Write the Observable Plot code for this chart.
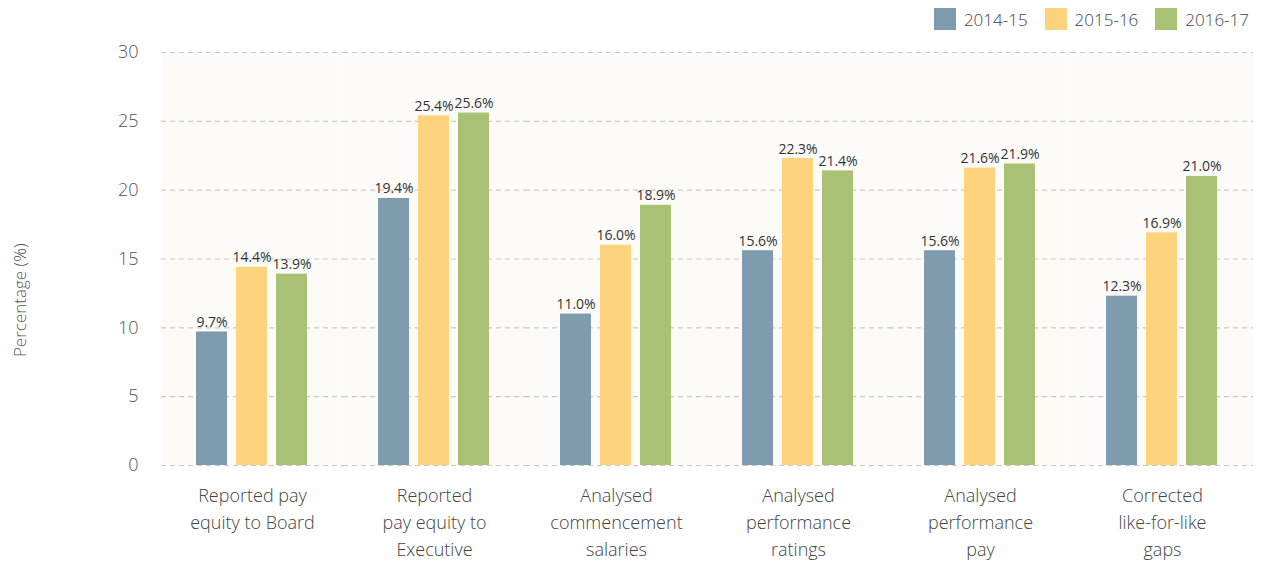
<!DOCTYPE html>
<html>
<head>
<meta charset="utf-8">
<script src="https://cdn.jsdelivr.net/npm/d3@7"></script>
<script src="https://cdn.jsdelivr.net/npm/@observablehq/plot@0.6"></script>
<style>
  body { margin: 0; background: #ffffff; font-family: "Open Sans", sans-serif; }
  #legend { height: 38px; display: flex; justify-content: flex-end; align-items: center; padding-right: 24px; box-sizing: border-box; font-size: 17px; color: #444; font-weight: 300; }
  #legend .item { display: flex; align-items: center; margin-left: 17px; }
  #legend .sw { width: 22px; height: 22px; margin-right: 8px; }
</style>
</head>
<body>
<div id="legend"></div>
<div id="chart"></div>
<script>
const categories = [
  "Reported pay equity to Board",
  "Reported pay equity to Executive",
  "Analysed commencement salaries",
  "Analysed performance ratings",
  "Analysed performance pay",
  "Corrected like-for-like gaps"
];
const categoryLabels = [
  "Reported pay\nequity to Board",
  "Reported\npay equity to\nExecutive",
  "Analysed\ncommencement\nsalaries",
  "Analysed\nperformance\nratings",
  "Analysed\nperformance\npay",
  "Corrected\nlike-for-like\ngaps"
];
const series = ["2014-15", "2015-16", "2016-17"];
const values2014_15 = [9.7, 19.4, 11.0, 15.6, 15.6, 12.3];
const values2015_16 = [14.4, 25.4, 16.0, 22.3, 21.6, 16.9];
const values2016_17 = [13.9, 25.6, 18.9, 21.4, 21.9, 21.0];
const colors = ["#7f9cae", "#fdd37e", "#a9c174"];
const yTicks = [0, 5, 10, 15, 20, 25, 30];
const yLabel = "Percentage (%)";

const seriesValues = [values2014_15, values2015_16, values2016_17];
const data = [];
categories.forEach((c, i) => {
  series.forEach((s, j) => data.push({category: c, series: s, value: seriesValues[j][i]}));
});
const labelRows = categories.map((c, i) => ({category: c, label: categoryLabels[i]}));

// legend
const legend = document.getElementById("legend");
series.forEach((s, j) => {
  const item = document.createElement("div");
  item.className = "item";
  item.innerHTML = `<span class="sw" style="background:${colors[j]}"></span><span>${s}</span>`;
  legend.appendChild(item);
});

const chart = Plot.plot({
  width: 1273,
  height: 524,
  marginLeft: 161,
  marginRight: 20,
  marginTop: 14,
  marginBottom: 97,
  style: {fontFamily: "Open Sans, sans-serif", background: "transparent"},
  fx: {domain: categories, padding: 0, axis: null},
  x: {domain: series, paddingInner: 0.22, paddingOuter: 0.83, axis: null},
  y: {domain: [0, 30], axis: null},
  color: {domain: series, range: colors},
  marks: [
    Plot.frame({fill: "#fcfbf8", stroke: null}),
    Plot.ruleY(yTicks, {stroke: "#c9c9c9", strokeWidth: 1.2, strokeDasharray: "5,4"}),
    Plot.axisY({ticks: yTicks, tickSize: 0, tickPadding: 23, fontSize: 18, color: "#555", fontWeight: 300, label: null}),
    Plot.text([yLabel], {fx: () => categories[0], y: () => 12, text: d => d, frameAnchor: "left",
      textAnchor: "middle", lineAnchor: "middle", rotate: -90,
      dx: -141, fontSize: 17, fill: "#555", fontWeight: 300}),
    Plot.barY(data, {fx: "category", x: "series", y: "value", fill: "series"}),
    Plot.text(data, {fx: "category", x: "series", y: "value", text: d => d.value.toFixed(1) + "%",
      lineAnchor: "bottom", dy: -5, fontSize: 14, fill: "#333"}),
    Plot.text(labelRows, {fx: "category", text: "label", frameAnchor: "bottom", lineAnchor: "top",
      dy: 17, fontSize: 18, lineHeight: 1.5, fill: "#444", fontWeight: 300})
  ]
});
document.getElementById("chart").appendChild(chart);
</script>
</body>
</html>
